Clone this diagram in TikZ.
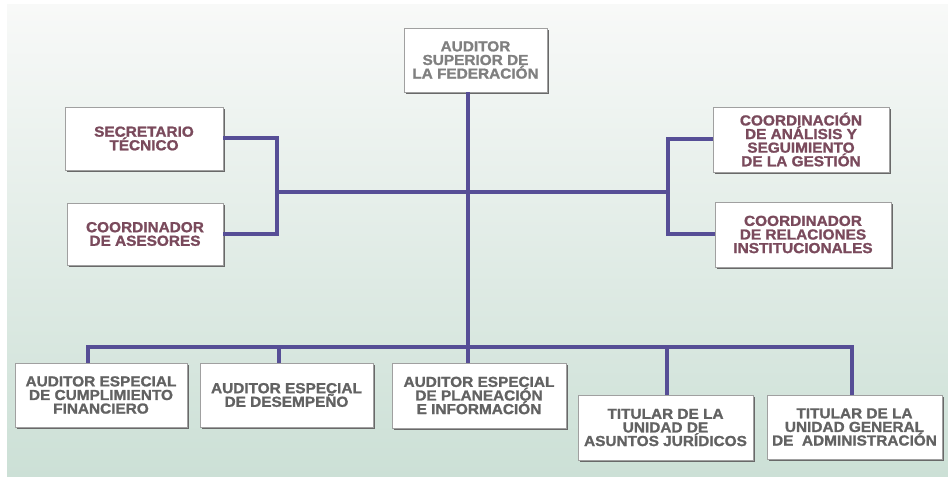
\documentclass[tikz,border=0pt]{standalone}
\usepackage{fontspec}
\newfontfamily\orgfont{Liberation Sans}[FakeStretch=1.06,FakeBold=1.3]
\usetikzlibrary{shadows}

\definecolor{linkblue}{RGB}{86,78,150}
\definecolor{boxgray}{RGB}{160,160,160}
\definecolor{shadegray}{RGB}{105,105,105}
\definecolor{headtext}{RGB}{128,128,128}
\definecolor{sidetext}{RGB}{122,74,92}
\definecolor{basetext}{RGB}{98,98,98}
\definecolor{bgtop}{RGB}{248,249,248}
\definecolor{bgbottom}{RGB}{204,224,214}

\tikzset{
  box/.style={draw=boxgray, fill=white, line width=0.8pt, align=center, inner sep=0pt,
    font=\orgfont\bfseries\fontsize{14.5}{13.6}\selectfont,
    drop shadow={shadow xshift=1.6pt, shadow yshift=-1.6pt, fill=shadegray, opacity=1}},
  headbox/.style={box, text=headtext},
  sidebox/.style={box, text=sidetext},
  basebox/.style={box, text=basetext},
  link/.style={draw=linkblue, line width=4pt},
}

\begin{document}
\begin{tikzpicture}[x=1pt,y=-1pt]
	\useasboundingbox (0,0) rectangle (948,481);
	\fill[white] (0,0) rectangle (948,481);
	\shade[top color=bgtop, bottom color=bgbottom] (7,5) rectangle (948,476); % background

	% boxes
	\node[headbox, minimum width=143pt, minimum height=64pt] (sup) at (475.5,60) {AUDITOR\\SUPERIOR DE\\LA FEDERACIÓN};
	\node[sidebox, minimum width=158pt, minimum height=63pt] (sec) at (144,138.5) {SECRETARIO\\TÉCNICO};
	\node[sidebox, minimum width=156pt, minimum height=62pt] (ase) at (145,234) {COORDINADOR\\DE ASESORES};
	\node[sidebox, minimum width=176pt, minimum height=65pt] (cag) at (801,139.5) {COORDINACIÓN\\DE ANÁLISIS Y\\SEGUIMIENTO\\DE LA GESTIÓN};
	\node[sidebox, minimum width=176pt, minimum height=65pt] (cri) at (803,234.5) {COORDINADOR\\DE RELACIONES\\INSTITUCIONALES};
	\node[basebox, minimum width=172pt, minimum height=64pt] (ecf) at (101,395) {AUDITOR ESPECIAL\\DE CUMPLIMIENTO\\FINANCIERO};
	\node[basebox, minimum width=173pt, minimum height=64pt] (ed) at (286.5,395) {AUDITOR ESPECIAL\\DE DESEMPEÑO};
	\node[basebox, minimum width=174pt, minimum height=65pt] (epi) at (479,395.5) {AUDITOR ESPECIAL\\DE PLANEACIÓN\\E INFORMACIÓN};
	\node[basebox, minimum width=175pt, minimum height=65pt] (uaj) at (665.5,427.5) {TITULAR DE LA\\UNIDAD DE\\ASUNTOS JURÍDICOS};
	\node[basebox, minimum width=175pt, minimum height=64pt] (uga) at (854.5,427) {TITULAR DE LA\\UNIDAD GENERAL\\DE\ \ ADMINISTRACIÓN};

	% joints of the lines
	\coordinate (lj) at (277,192);
	\coordinate (rj) at (668,192);
	\coordinate (bus) at (468,347);

	\draw[link] ([xshift=-7.5pt]sup.south) -- ([xshift=-11pt]epi.north); % trunk
	\draw[link] (lj) -- (rj);
	\draw[link] (sec.east) -| (lj) |- (ase.east);
	\draw[link] (cag.west) -| (rj) |- (cri.west);
	\draw[link] ([xshift=-13pt]ecf.north) |- (bus) -| ([xshift=-2.5pt]uga.north);
	\foreach \n/\dx in {ed/-7.5,uaj/1.5} % edit here for the drops
	\draw[link] ([xshift=\dx pt]\n.north) -- ([xshift=\dx pt]\n.north |- bus);
\end{tikzpicture}
\end{document}
